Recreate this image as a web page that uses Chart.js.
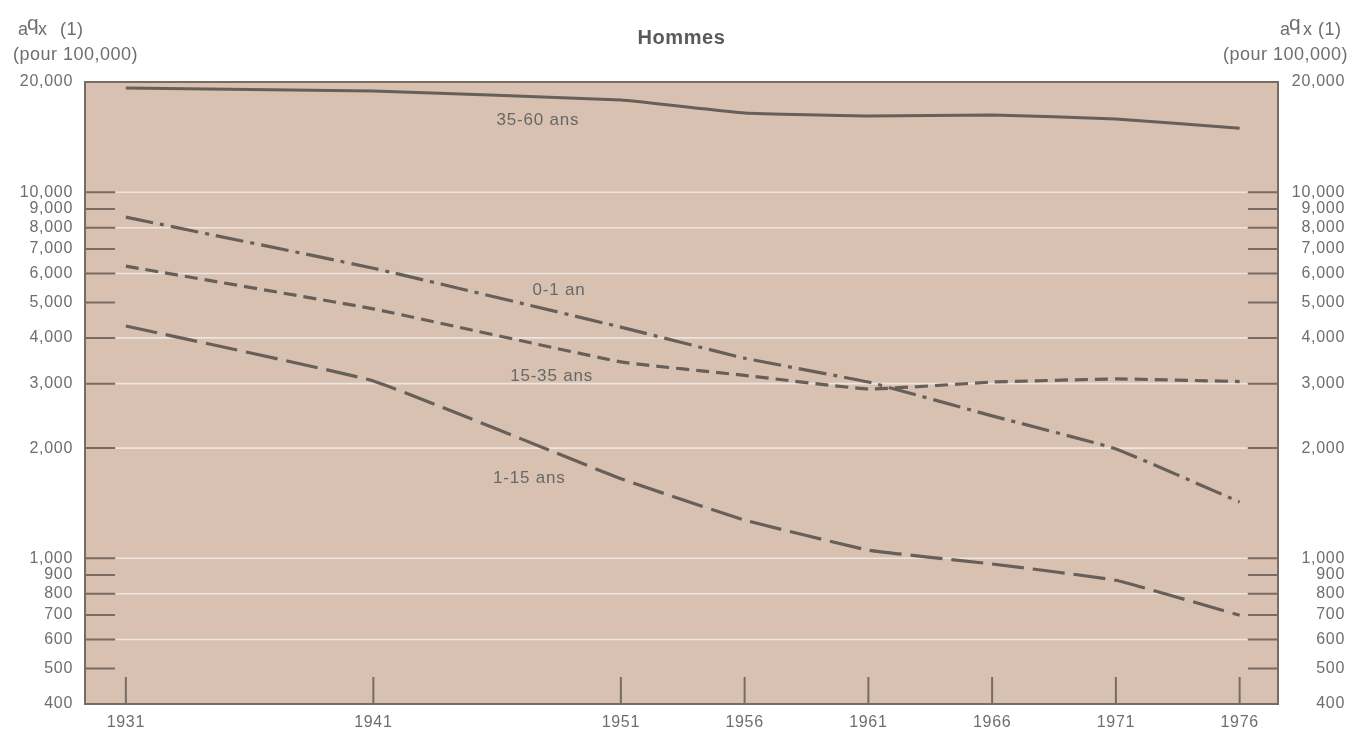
<!DOCTYPE html>
<html>
<head>
<meta charset="UTF-8">
<title>Hommes</title>
<script src="https://cdn.jsdelivr.net/npm/chart.js@4.4.0/dist/chart.umd.min.js"></script>
<style>
	body { margin: 0; background: #fff; }
</style>
</head>
<body>
<canvas id="myChart" width="1353" height="730"></canvas>
<script>

// data (deaths per 100,000, log scale)
var years = [1931, 1941, 1951, 1956, 1961, 1966, 1971, 1976];
var ans35_60 = [19250, 18900, 17850, 16450, 16150, 16250, 15850, 14950];
var an0_1 = [8550, 6200, 4280, 3520, 3030, 2450, 1990, 1425];
var ans15_35 = [6280, 4800, 3440, 3160, 2900, 3030, 3090, 3040];
var ans1_15 = [4310, 3050, 1650, 1272, 1053, 965, 871, 699];

var yTicks = [400, 500, 600, 700, 800, 900, 1000, 2000, 3000, 4000, 5000, 6000, 7000, 8000, 9000, 10000, 20000];
var whiteLines = [600, 800, 1000, 2000, 3000, 4000, 6000, 8000, 10000];

// where the series names sit, in data units
var seriesNames = ['35-60 ans', '0-1 an', '15-35 ans', '1-15 ans'];
var nameYears = [1947.65, 1948.5, 1948.2, 1947.3];
var nameValues = [15850, 5440, 3170, 1660];

var ink = '#675f59';
var textGrey = '#6e6e6e';
var fontName = '"Liberation Sans", Arial, sans-serif';

function pts(vals) {
	return years.map(function (y, i) { return { x: y, y: vals[i] }; });
}

function fmt(v) {
	return Number(v).toLocaleString('en-US');
}

var framePlugin = {
	id: 'frame',
	beforeDraw: function (chart) {
		var ctx = chart.ctx, a = chart.chartArea, ys = chart.scales.y;
		ctx.save();
		ctx.fillStyle = '#ffffff';
		ctx.fillRect(0, 0, chart.width, chart.height);
		ctx.fillStyle = '#d8c1b0';
		ctx.fillRect(a.left, a.top, a.right - a.left, a.bottom - a.top);
		ctx.strokeStyle = '#eee5de';
		ctx.lineWidth = 1.6;
		whiteLines.forEach(function (v) {
			var y = ys.getPixelForValue(v);
			ctx.beginPath();
			ctx.moveTo(a.left + 31, y);
			ctx.lineTo(a.right - 31, y);
			ctx.stroke();
		});
		ctx.restore();
		ctx.letterSpacing = '0.7px';
	},
	afterDatasetsDraw: function (chart) {
		var ctx = chart.ctx, a = chart.chartArea;
		var ys = chart.scales.y, xs = chart.scales.x;
		ctx.save();
		ctx.strokeStyle = '#776b64';
		ctx.lineWidth = 2;
		// inner ticks on both sides
		yTicks.forEach(function (v) {
			if (v === 400 || v === 20000) return;
			var y = ys.getPixelForValue(v);
			ctx.beginPath();
			ctx.moveTo(a.left, y); ctx.lineTo(a.left + 30, y);
			ctx.moveTo(a.right - 30, y); ctx.lineTo(a.right, y);
			ctx.stroke();
		});
		// year ticks rising from the bottom
		years.forEach(function (yr) {
			var x = xs.getPixelForValue(yr);
			ctx.beginPath();
			ctx.moveTo(x, a.bottom); ctx.lineTo(x, a.bottom - 27);
			ctx.stroke();
		});
		ctx.strokeRect(a.left, a.top, a.right - a.left, a.bottom - a.top);

		// series names
		ctx.fillStyle = '#686868';
		ctx.font = '17px ' + fontName;
		ctx.letterSpacing = '0.8px';
		ctx.textAlign = 'center';
		ctx.textBaseline = 'middle';
		seriesNames.forEach(function (n, i) {
			ctx.fillText(n, xs.getPixelForValue(nameYears[i]), ys.getPixelForValue(nameValues[i]) + 1);
		});

		// title
		ctx.fillStyle = '#5a5a5a';
		ctx.font = 'bold 20px ' + fontName;
		ctx.letterSpacing = '0.6px';
		ctx.textBaseline = 'alphabetic';
		ctx.fillText('Hommes', (a.left + a.right) / 2, 44);

		// axis captions, both sides
		ctx.fillStyle = textGrey;
		ctx.textAlign = 'left';
		ctx.letterSpacing = '0.5px';
		var f = '18px ' + fontName, fq = '21px ' + fontName;
		ctx.font = f; ctx.fillText('a', 18, 35);
		ctx.font = fq; ctx.fillText('q', 27, 30);
		ctx.font = f; ctx.fillText('x', 38, 35);
		ctx.fillText('(1)', 60, 35);
		ctx.fillText('(pour 100,000)', 13, 60);

		ctx.font = f; ctx.fillText('a', 1280, 35);
		ctx.font = fq; ctx.fillText('q', 1289, 30);
		ctx.font = f; ctx.fillText('x', 1303, 35);
		ctx.fillText('(1)', 1318, 35);
		ctx.textAlign = 'right';
		ctx.fillText('(pour 100,000)', 1348, 60);
		ctx.restore();
	}
};

var tickFont = { family: fontName, size: 16 };

var ctx = document.getElementById('myChart').getContext('2d');
var chart = new Chart(ctx, {
	type: 'line',
	data: {
		datasets: [
			{ label: '35-60 ans', data: pts(ans35_60), borderColor: ink, borderWidth: 3, borderDash: [] },
			{ label: '0-1 an', data: pts(an0_1), borderColor: ink, borderWidth: 3.2, borderDash: [28, 7, 4, 7] },
			{ label: '15-35 ans', data: pts(ans15_35), borderColor: ink, borderWidth: 3.2, borderDash: [13, 7] },
			{ label: '1-15 ans', data: pts(ans1_15), borderColor: ink, borderWidth: 3.2, borderDash: [32, 9] }
		]
	},
	options: {
		responsive: false,
		animation: false,
		layout: { padding: { top: 82, right: 8, left: 0, bottom: 0 } },
		elements: {
			point: { radius: 0 },
			line: { tension: 0.1, borderCapStyle: 'butt' }
		},
		plugins: {
			legend: { display: false },
			title: { display: false },
			tooltip: { enabled: false }
		},
		scales: {
			x: {
				type: 'linear',
				min: 1929.35,
				max: 1977.55,
				grid: { display: false, drawTicks: false },
				border: { display: false },
				afterBuildTicks: function (s) { s.ticks = years.map(function (v) { return { value: v }; }); },
				afterFit: function (s) { s.height = 26; },
				ticks: {
					autoSkip: false, maxRotation: 0, padding: 9,
					color: textGrey, font: tickFont,
					callback: function (v) { return String(v); }
				}
			},
			y: {
				type: 'logarithmic',
				position: 'left',
				min: 400,
				max: 20000,
				grid: { display: false, drawTicks: false },
				border: { display: false },
				afterBuildTicks: function (s) { s.ticks = yTicks.map(function (v) { return { value: v }; }); },
				afterFit: function (s) { s.width = 85; },
				ticks: {
					autoSkip: false, padding: 12,
					color: textGrey, font: tickFont,
					callback: function (v) { return fmt(v); }
				}
			},
			y2: {
				type: 'logarithmic',
				position: 'right',
				min: 400,
				max: 20000,
				grid: { display: false, drawTicks: false },
				border: { display: false },
				afterBuildTicks: function (s) { s.ticks = yTicks.map(function (v) { return { value: v }; }); },
				afterFit: function (s) { s.width = 67; },
				ticks: {
					autoSkip: false, padding: 12, crossAlign: 'far',
					color: textGrey, font: tickFont,
					callback: function (v) { return fmt(v); }
				}
			}
		}
	},
	plugins: [framePlugin]
});

</script>
</body>
</html>
